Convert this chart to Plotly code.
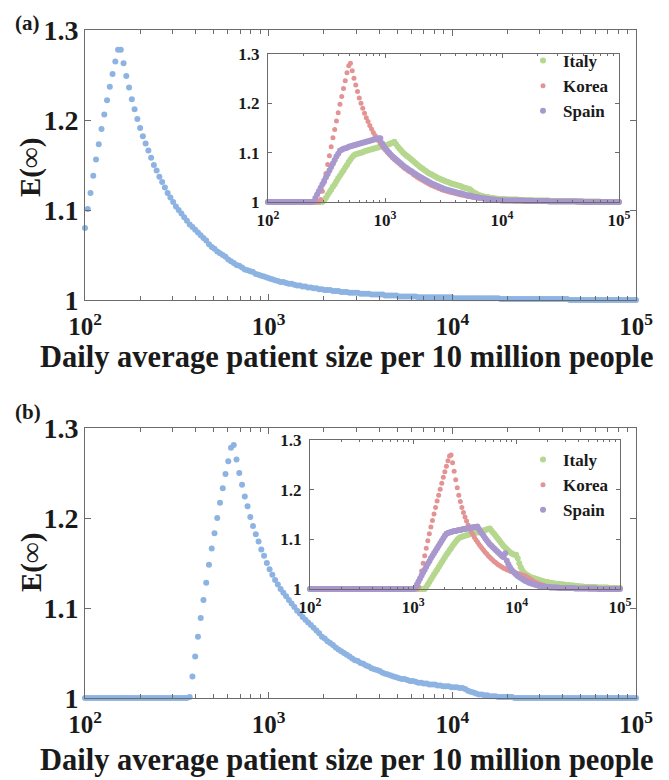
import numpy as np
import plotly.graph_objects as go

# ---------------- data ----------------
# every series is sampled on an evenly log-spaced grid from 10^2 to 10^5
X_MIN, X_MAX = 100, 100000

# panel (a), main curve
MAIN_A = [
    1.080, 1.101, 1.119, 1.138, 1.156, 1.173, 1.190, 1.206, 1.222, 1.237,
    1.251, 1.265, 1.278, 1.278, 1.263, 1.249, 1.236, 1.223, 1.212, 1.201,
    1.191, 1.182, 1.174, 1.166, 1.158, 1.150, 1.144, 1.137, 1.131, 1.125,
    1.119, 1.114, 1.109, 1.104, 1.100, 1.096, 1.092, 1.088, 1.084, 1.081,
    1.078, 1.075, 1.072, 1.069, 1.066, 1.062, 1.059, 1.057, 1.054, 1.052,
    1.050, 1.048, 1.045, 1.043, 1.041, 1.039, 1.038, 1.036, 1.034, 1.033,
    1.032, 1.031, 1.029, 1.028, 1.027, 1.026, 1.025, 1.024, 1.023, 1.022,
    1.021, 1.020, 1.020, 1.019, 1.018, 1.018, 1.017, 1.016, 1.016, 1.015,
    1.015, 1.014, 1.014, 1.013, 1.013, 1.012, 1.012, 1.011, 1.011, 1.011,
    1.010, 1.010, 1.010, 1.009, 1.009, 1.009, 1.008, 1.008, 1.008, 1.008,
    1.007, 1.007, 1.007, 1.007, 1.006, 1.006, 1.006, 1.006, 1.006, 1.005,
    1.005, 1.005, 1.005, 1.005, 1.004, 1.004, 1.004, 1.004, 1.004, 1.004,
    1.004, 1.003, 1.003, 1.003, 1.003, 1.003, 1.003, 1.003, 1.003, 1.003,
    1.003, 1.003, 1.003, 1.003, 1.002, 1.002, 1.002, 1.002, 1.002, 1.002,
    1.002, 1.002, 1.002, 1.002, 1.002, 1.002, 1.002, 1.002, 1.002, 1.002,
    1.002, 1.001, 1.001, 1.001, 1.001, 1.001, 1.001, 1.001, 1.001, 1.001,
    1.001, 1.001, 1.001, 1.001, 1.001, 1.001, 1.001, 1.001, 1.001, 1.001,
    1.001, 1.001, 1.001, 1.001, 1.001, 1.001, 1.0, 1.0, 1.0, 1.0,
    1.0, 1.0, 1.0, 1.0, 1.0, 1.0, 1.0, 1.0, 1.0, 1.0,
    1.0, 1.0, 1.0, 1.0, 1.0, 1.0, 1.0, 1.0, 1.0, 1.0,
    1.0,
]

# panel (a), inset
ITALY_A = [
    1.0, 1.0, 1.0, 1.0, 1.0, 1.0, 1.0, 1.0, 1.0, 1.0,
    1.0, 1.0, 1.0, 1.0, 1.0, 1.0, 1.0, 1.0, 1.0, 1.0,
    1.0, 1.0, 1.0, 1.0, 1.0, 1.0, 1.0, 1.0, 1.0, 1.0,
    1.0, 1.0, 1.003, 1.008, 1.014, 1.020, 1.025, 1.031, 1.036, 1.042,
    1.048, 1.053, 1.059, 1.064, 1.070, 1.075, 1.081, 1.086, 1.091, 1.095,
    1.097, 1.098, 1.099, 1.100, 1.101, 1.103, 1.104, 1.105, 1.106, 1.107,
    1.108, 1.109, 1.110, 1.111, 1.112, 1.113, 1.114, 1.115, 1.116, 1.117,
    1.119, 1.120, 1.122, 1.117, 1.112, 1.108, 1.104, 1.100, 1.097, 1.094,
    1.091, 1.088, 1.085, 1.082, 1.079, 1.076, 1.073, 1.070, 1.068, 1.065,
    1.063, 1.060, 1.058, 1.056, 1.054, 1.052, 1.050, 1.048, 1.047, 1.045,
    1.044, 1.042, 1.041, 1.040, 1.038, 1.037, 1.036, 1.035, 1.034, 1.033,
    1.032, 1.030, 1.029, 1.028, 1.027, 1.026, 1.023, 1.020, 1.018, 1.016,
    1.014, 1.013, 1.012, 1.011, 1.010, 1.010, 1.009, 1.008, 1.008, 1.007,
    1.007, 1.006, 1.006, 1.006, 1.006, 1.006, 1.005, 1.005, 1.005, 1.005,
    1.005, 1.005, 1.005, 1.004, 1.004, 1.004, 1.004, 1.004, 1.004, 1.004,
    1.004, 1.003, 1.003, 1.003, 1.003, 1.003, 1.003, 1.003, 1.003, 1.003,
    1.003, 1.002, 1.002, 1.002, 1.002, 1.002, 1.002, 1.002, 1.002, 1.002,
    1.002, 1.002, 1.002, 1.002, 1.002, 1.002, 1.001, 1.001, 1.001, 1.001,
    1.001, 1.001, 1.001, 1.001, 1.001, 1.001, 1.001, 1.001, 1.001, 1.001,
    1.0, 1.0, 1.0, 1.0, 1.0, 1.0, 1.0, 1.0, 1.0, 1.0,
    1.0,
]

KOREA_A = [
    1.0, 1.0, 1.0, 1.0, 1.0, 1.0, 1.0, 1.0, 1.0, 1.0,
    1.0, 1.0, 1.0, 1.0, 1.0, 1.0, 1.0, 1.0, 1.0, 1.0,
    1.0, 1.0, 1.0, 1.0, 1.0, 1.0, 1.0, 1.0, 1.0, 1.0,
    1.005, 1.022, 1.040, 1.058, 1.076, 1.094, 1.112, 1.130, 1.147, 1.164,
    1.181, 1.198, 1.214, 1.230, 1.246, 1.262, 1.276, 1.281, 1.266, 1.251,
    1.237, 1.224, 1.211, 1.200, 1.190, 1.180, 1.171, 1.163, 1.155, 1.148,
    1.141, 1.135, 1.129, 1.124, 1.119, 1.114, 1.109, 1.105, 1.101, 1.097,
    1.093, 1.089, 1.086, 1.083, 1.080, 1.077, 1.074, 1.071, 1.068, 1.066,
    1.063, 1.061, 1.059, 1.055, 1.053, 1.050, 1.048, 1.046, 1.044, 1.042,
    1.040, 1.038, 1.036, 1.034, 1.033, 1.031, 1.030, 1.028, 1.027, 1.025,
    1.024, 1.023, 1.022, 1.021, 1.020, 1.019, 1.018, 1.017, 1.016, 1.015,
    1.014, 1.014, 1.013, 1.012, 1.011, 1.011, 1.010, 1.009, 1.009, 1.008,
    1.008, 1.007, 1.007, 1.006, 1.006, 1.005, 1.005, 1.005, 1.004, 1.004,
    1.004, 1.003, 1.003, 1.003, 1.003, 1.003, 1.003, 1.003, 1.003, 1.003,
    1.002, 1.002, 1.002, 1.002, 1.002, 1.002, 1.002, 1.002, 1.002, 1.002,
    1.002, 1.002, 1.002, 1.002, 1.002, 1.002, 1.001, 1.001, 1.001, 1.001,
    1.001, 1.001, 1.001, 1.001, 1.001, 1.001, 1.001, 1.001, 1.001, 1.001,
    1.001, 1.001, 1.001, 1.001, 1.001, 1.001, 1.0, 1.0, 1.0, 1.0,
    1.0, 1.0, 1.0, 1.0, 1.0, 1.0, 1.0, 1.0, 1.0, 1.0,
    1.0, 1.0, 1.0, 1.0, 1.0, 1.0, 1.0, 1.0, 1.0, 1.0,
    1.0,
]

SPAIN_A = [
    1.0, 1.0, 1.0, 1.0, 1.0, 1.0, 1.0, 1.0, 1.0, 1.0,
    1.0, 1.0, 1.0, 1.0, 1.0, 1.0, 1.0, 1.0, 1.0, 1.0,
    1.0, 1.0, 1.0, 1.0, 1.0, 1.0, 1.001, 1.008, 1.015, 1.022,
    1.029, 1.036, 1.043, 1.050, 1.057, 1.064, 1.071, 1.078, 1.085, 1.092,
    1.098, 1.104, 1.106, 1.108, 1.109, 1.110, 1.112, 1.113, 1.114, 1.115,
    1.116, 1.117, 1.118, 1.119, 1.120, 1.121, 1.122, 1.123, 1.124, 1.125,
    1.126, 1.127, 1.128, 1.129, 1.129, 1.119, 1.113, 1.108, 1.104, 1.100,
    1.096, 1.092, 1.089, 1.086, 1.083, 1.080, 1.077, 1.074, 1.071, 1.069,
    1.066, 1.064, 1.062, 1.059, 1.057, 1.054, 1.052, 1.050, 1.048, 1.046,
    1.044, 1.042, 1.040, 1.038, 1.036, 1.035, 1.033, 1.032, 1.030, 1.029,
    1.027, 1.026, 1.025, 1.024, 1.023, 1.022, 1.021, 1.020, 1.019, 1.018,
    1.017, 1.016, 1.015, 1.014, 1.013, 1.013, 1.012, 1.011, 1.010, 1.010,
    1.009, 1.008, 1.008, 1.007, 1.007, 1.006, 1.006, 1.005, 1.005, 1.005,
    1.004, 1.004, 1.004, 1.003, 1.003, 1.003, 1.003, 1.003, 1.003, 1.003,
    1.003, 1.003, 1.003, 1.003, 1.003, 1.003, 1.002, 1.002, 1.002, 1.002,
    1.002, 1.002, 1.002, 1.002, 1.002, 1.002, 1.002, 1.002, 1.002, 1.002,
    1.001, 1.001, 1.001, 1.001, 1.001, 1.001, 1.001, 1.001, 1.001, 1.001,
    1.001, 1.001, 1.001, 1.001, 1.001, 1.001, 1.001, 1.001, 1.001, 1.001,
    1.0, 1.0, 1.0, 1.0, 1.0, 1.0, 1.0, 1.0, 1.0, 1.0,
    1.0, 1.0, 1.0, 1.0, 1.0, 1.0, 1.0, 1.0, 1.0, 1.0,
    1.0,
]

# panel (b), main curve
MAIN_B = [
    1.0, 1.0, 1.0, 1.0, 1.0, 1.0, 1.0, 1.0, 1.0, 1.0,
    1.0, 1.0, 1.0, 1.0, 1.0, 1.0, 1.0, 1.0, 1.0, 1.0,
    1.0, 1.0, 1.0, 1.0, 1.0, 1.0, 1.0, 1.0, 1.0, 1.0,
    1.0, 1.0, 1.0, 1.0, 1.0, 1.0, 1.0, 1.0, 1.001, 1.024,
    1.046, 1.068, 1.089, 1.109, 1.128, 1.148, 1.166, 1.183, 1.200, 1.217,
    1.233, 1.249, 1.263, 1.278, 1.281, 1.265, 1.250, 1.237, 1.224, 1.213,
    1.201, 1.191, 1.182, 1.174, 1.165, 1.158, 1.150, 1.143, 1.137, 1.131,
    1.126, 1.121, 1.117, 1.113, 1.109, 1.105, 1.101, 1.097, 1.094, 1.090,
    1.087, 1.084, 1.081, 1.078, 1.075, 1.072, 1.068, 1.066, 1.063, 1.061,
    1.059, 1.056, 1.054, 1.052, 1.050, 1.048, 1.046, 1.044, 1.042, 1.041,
    1.039, 1.038, 1.036, 1.035, 1.033, 1.032, 1.031, 1.030, 1.028, 1.027,
    1.026, 1.025, 1.024, 1.023, 1.022, 1.021, 1.021, 1.020, 1.019, 1.019,
    1.018, 1.017, 1.017, 1.016, 1.016, 1.015, 1.015, 1.015, 1.014, 1.014,
    1.013, 1.013, 1.013, 1.012, 1.012, 1.012, 1.011, 1.011, 1.010, 1.008,
    1.007, 1.006, 1.005, 1.004, 1.004, 1.003, 1.003, 1.002, 1.002, 1.002,
    1.001, 1.001, 1.001, 1.001, 1.001, 1.001, 1.0, 1.0, 1.0, 1.0,
    1.0, 1.0, 1.0, 1.0, 1.0, 1.0, 1.0, 1.0, 1.0, 1.0,
    1.0, 1.0, 1.0, 1.0, 1.0, 1.0, 1.0, 1.0, 1.0, 1.0,
    1.0, 1.0, 1.0, 1.0, 1.0, 1.0, 1.0, 1.0, 1.0, 1.0,
    1.0, 1.0, 1.0, 1.0, 1.0, 1.0, 1.0, 1.0, 1.0, 1.0,
    1.0,
]

# panel (b), inset
ITALY_B = [
    1.0, 1.0, 1.0, 1.0, 1.0, 1.0, 1.0, 1.0, 1.0, 1.0,
    1.0, 1.0, 1.0, 1.0, 1.0, 1.0, 1.0, 1.0, 1.0, 1.0,
    1.0, 1.0, 1.0, 1.0, 1.0, 1.0, 1.0, 1.0, 1.0, 1.0,
    1.0, 1.0, 1.0, 1.0, 1.0, 1.0, 1.0, 1.0, 1.0, 1.0,
    1.0, 1.0, 1.0, 1.0, 1.0, 1.0, 1.0, 1.0, 1.0, 1.0,
    1.0, 1.0, 1.0, 1.0, 1.0, 1.0, 1.0, 1.0, 1.0, 1.0,
    1.0, 1.0, 1.0, 1.0, 1.0, 1.0, 1.0, 1.0, 1.0, 1.0,
    1.0, 1.0, 1.0, 1.0, 1.0, 1.004, 1.009, 1.014, 1.019, 1.024,
    1.029, 1.034, 1.039, 1.044, 1.049, 1.054, 1.059, 1.064, 1.069, 1.073,
    1.078, 1.082, 1.087, 1.091, 1.095, 1.099, 1.102, 1.104, 1.105, 1.106,
    1.107, 1.108, 1.109, 1.110, 1.111, 1.112, 1.113, 1.114, 1.114, 1.115,
    1.116, 1.117, 1.118, 1.119, 1.120, 1.121, 1.122, 1.118, 1.114, 1.110,
    1.106, 1.102, 1.098, 1.094, 1.090, 1.086, 1.083, 1.080, 1.077, 1.074,
    1.072, 1.070, 1.069, 1.069, 1.062, 1.052, 1.044, 1.037, 1.033, 1.030,
    1.028, 1.026, 1.024, 1.023, 1.022, 1.021, 1.020, 1.019, 1.018, 1.017,
    1.016, 1.015, 1.014, 1.014, 1.013, 1.012, 1.012, 1.011, 1.011, 1.010,
    1.010, 1.010, 1.009, 1.009, 1.009, 1.008, 1.008, 1.008, 1.007, 1.007,
    1.007, 1.006, 1.006, 1.006, 1.005, 1.005, 1.005, 1.004, 1.004, 1.004,
    1.004, 1.004, 1.004, 1.004, 1.004, 1.003, 1.003, 1.003, 1.003, 1.003,
    1.003, 1.003, 1.003, 1.002, 1.002, 1.002, 1.002, 1.002, 1.002, 1.002,
    1.002,
]

KOREA_B = [
    1.0, 1.0, 1.0, 1.0, 1.0, 1.0, 1.0, 1.0, 1.0, 1.0,
    1.0, 1.0, 1.0, 1.0, 1.0, 1.0, 1.0, 1.0, 1.0, 1.0,
    1.0, 1.0, 1.0, 1.0, 1.0, 1.0, 1.0, 1.0, 1.0, 1.0,
    1.0, 1.0, 1.0, 1.0, 1.0, 1.0, 1.0, 1.0, 1.0, 1.0,
    1.0, 1.0, 1.0, 1.0, 1.0, 1.0, 1.0, 1.0, 1.0, 1.0,
    1.0, 1.0, 1.0, 1.0, 1.0, 1.0, 1.0, 1.0, 1.0, 1.0,
    1.0, 1.0, 1.0, 1.0, 1.0, 1.0, 1.0, 1.0, 1.0, 1.0,
    1.005, 1.021, 1.036, 1.052, 1.067, 1.082, 1.097, 1.111, 1.125, 1.138,
    1.151, 1.164, 1.177, 1.189, 1.201, 1.213, 1.225, 1.236, 1.247, 1.258,
    1.268, 1.270, 1.254, 1.237, 1.220, 1.204, 1.189, 1.176, 1.164, 1.154,
    1.145, 1.137, 1.129, 1.122, 1.115, 1.110, 1.104, 1.099, 1.095, 1.090,
    1.086, 1.082, 1.078, 1.074, 1.071, 1.067, 1.064, 1.061, 1.058, 1.055,
    1.053, 1.050, 1.048, 1.046, 1.044, 1.042, 1.041, 1.039, 1.038, 1.036,
    1.035, 1.034, 1.033, 1.032, 1.031, 1.030, 1.029, 1.028, 1.027, 1.026,
    1.024, 1.022, 1.020, 1.018, 1.016, 1.014, 1.013, 1.011, 1.010, 1.009,
    1.008, 1.007, 1.006, 1.005, 1.005, 1.004, 1.004, 1.003, 1.003, 1.002,
    1.002, 1.002, 1.002, 1.002, 1.002, 1.002, 1.001, 1.001, 1.001, 1.001,
    1.001, 1.001, 1.001, 1.001, 1.001, 1.001, 1.001, 1.001, 1.001, 1.001,
    1.0, 1.0, 1.0, 1.0, 1.0, 1.0, 1.0, 1.0, 1.0, 1.0,
    1.0, 1.0, 1.0, 1.0, 1.0, 1.0, 1.0, 1.0, 1.0, 1.0,
    1.0,
]

SPAIN_B = [
    1.0, 1.0, 1.0, 1.0, 1.0, 1.0, 1.0, 1.0, 1.0, 1.0,
    1.0, 1.0, 1.0, 1.0, 1.0, 1.0, 1.0, 1.0, 1.0, 1.0,
    1.0, 1.0, 1.0, 1.0, 1.0, 1.0, 1.0, 1.0, 1.0, 1.0,
    1.0, 1.0, 1.0, 1.0, 1.0, 1.0, 1.0, 1.0, 1.0, 1.0,
    1.0, 1.0, 1.0, 1.0, 1.0, 1.0, 1.0, 1.0, 1.0, 1.0,
    1.0, 1.0, 1.0, 1.0, 1.0, 1.0, 1.0, 1.0, 1.0, 1.0,
    1.0, 1.0, 1.0, 1.0, 1.0, 1.0, 1.0, 1.0, 1.003, 1.009,
    1.015, 1.021, 1.027, 1.033, 1.039, 1.045, 1.051, 1.056, 1.062, 1.067,
    1.072, 1.077, 1.082, 1.087, 1.092, 1.097, 1.102, 1.107, 1.111, 1.113,
    1.114, 1.115, 1.116, 1.117, 1.117, 1.118, 1.119, 1.119, 1.120, 1.121,
    1.121, 1.122, 1.122, 1.123, 1.124, 1.124, 1.125, 1.125, 1.126, 1.121,
    1.116, 1.111, 1.107, 1.102, 1.098, 1.094, 1.090, 1.087, 1.084, 1.081,
    1.078, 1.075, 1.072, 1.069, 1.066, 1.064, 1.072, 1.057, 1.050, 1.044,
    1.039, 1.035, 1.032, 1.029, 1.026, 1.024, 1.022, 1.020, 1.018, 1.016,
    1.015, 1.013, 1.012, 1.011, 1.010, 1.009, 1.008, 1.007, 1.006, 1.006,
    1.005, 1.005, 1.004, 1.004, 1.004, 1.003, 1.003, 1.003, 1.003, 1.003,
    1.003, 1.002, 1.002, 1.002, 1.002, 1.002, 1.002, 1.002, 1.002, 1.002,
    1.002, 1.001, 1.001, 1.001, 1.001, 1.001, 1.001, 1.001, 1.001, 1.001,
    1.001, 1.001, 1.001, 1.001, 1.001, 1.001, 1.0, 1.0, 1.0, 1.0,
    1.0, 1.0, 1.0, 1.0, 1.0, 1.0, 1.0, 1.0, 1.0, 1.0,
    1.0,
]

SERIES_NAMES = ["Italy", "Korea", "Spain"]
MAJOR_X = [100, 1000, 10000, 100000]
MAJOR_X_TEXT = ["10<sup>2</sup>", "10<sup>3</sup>", "10<sup>4</sup>", "10<sup>5</sup>"]
Y_TICKS = [1, 1.1, 1.2, 1.3]
Y_TICK_TEXT = ["1", "1.1", "1.2", "1.3"]
X_TITLE = "Daily average patient size per 10 million people"
Y_TITLE = "E(\u221e)"

# ---------------- styling ----------------
PAGE_W, PAGE_H = 669, 780
OFF = 8                      # the html page body margin
W, H = PAGE_W - OFF, PAGE_H - OFF
FONT = "Liberation Serif, Times New Roman, Times, DejaVu Serif, serif"
TXT = "#1a1a1a"
AX = "#6b6b6b"
BLUE = "#8db3e2"
COLORS = {"Italy": "#b5d78e", "Korea": "#e39393", "Spain": "#a898cd"}
SIZES = {"Italy": 6, "Korea": 5, "Spain": 6}

MINOR_X = [m * 10 ** e for e in (2, 3, 4) for m in range(2, 10)]


def px_x(v):
    return (v - OFF) / W


def px_y(v):
    return 1 - (v - OFF) / H


def grid(values):
    return np.logspace(np.log10(X_MIN), np.log10(X_MAX), len(values))


def xaxis(dom, anchor, size, ticklen, minorlen, standoff):
    return dict(type="log", range=[2, 5], domain=dom, anchor=anchor, automargin=False,
                showline=True, linecolor=AX, linewidth=1, mirror="ticks",
                ticks="inside", ticklen=ticklen, tickcolor=AX, tickwidth=1,
                tickmode="array", tickvals=MAJOR_X, ticktext=MAJOR_X_TEXT,
                minor=dict(tickmode="array", tickvals=MINOR_X, ticks="inside",
                           ticklen=minorlen, tickcolor=AX, showgrid=False),
                showgrid=False, zeroline=False, ticklabelstandoff=standoff,
                tickfont=dict(family=FONT, size=size, color=TXT, weight="bold"))


def yaxis(dom, anchor, size, ticklen, standoff):
    return dict(range=[1, 1.3], domain=dom, anchor=anchor, automargin=False,
                showline=True, linecolor=AX, linewidth=1, mirror="ticks",
                ticks="inside", ticklen=ticklen, tickcolor=AX, tickwidth=1,
                tickmode="array", tickvals=Y_TICKS, ticktext=Y_TICK_TEXT,
                showgrid=False, zeroline=False, ticklabelstandoff=standoff,
                tickfont=dict(family=FONT, size=size, color=TXT, weight="bold"))


fig = go.Figure()

# main curves
fig.add_trace(go.Scatter(x=grid(MAIN_A), y=MAIN_A, xaxis="x", yaxis="y", mode="markers",
                         marker=dict(color=BLUE, size=6), showlegend=False, cliponaxis=False))
fig.add_trace(go.Scatter(x=grid(MAIN_B), y=MAIN_B, xaxis="x3", yaxis="y3", mode="markers",
                         marker=dict(color=BLUE, size=6), showlegend=False, cliponaxis=False))

# insets
for name, vals in zip(SERIES_NAMES, [ITALY_A, KOREA_A, SPAIN_A]):
    fig.add_trace(go.Scatter(x=grid(vals), y=vals, xaxis="x2", yaxis="y2", mode="markers",
                             name=name, legend="legend",
                             marker=dict(color=COLORS[name], size=SIZES[name]), cliponaxis=False))
for name, vals in zip(SERIES_NAMES, [ITALY_B, KOREA_B, SPAIN_B]):
    fig.add_trace(go.Scatter(x=grid(vals), y=vals, xaxis="x4", yaxis="y4", mode="markers",
                             name=name, legend="legend2",
                             marker=dict(color=COLORS[name], size=SIZES[name]), cliponaxis=False))

MAIN_XDOM = [px_x(85), px_x(636)]
legend_style = dict(xanchor="left", yanchor="top", bgcolor="rgba(0,0,0,0)",
                    font=dict(family=FONT, size=17, color=TXT, weight="bold"),
                    itemwidth=30, tracegroupgap=0)

fig.update_layout(
    width=W, height=H, margin=dict(l=0, r=0, t=0, b=0, autoexpand=False),
    paper_bgcolor="white", plot_bgcolor="white",
    xaxis=xaxis(MAIN_XDOM, "y", 25, 6, 4, 4),
    yaxis=yaxis([px_y(300), px_y(30)], "x", 28, 6, 0),
    xaxis2=xaxis([px_x(268), px_x(619)], "y2", 17, 4, 2, 3),
    yaxis2=yaxis([px_y(202), px_y(54)], "x2", 17, 4, 4),
    xaxis3=xaxis(MAIN_XDOM, "y3", 25, 6, 4, 4),
    yaxis3=yaxis([px_y(698), px_y(428)], "x3", 28, 6, 0),
    xaxis4=xaxis([px_x(310), px_x(620)], "y4", 17, 4, 2, 3),
    yaxis4=yaxis([px_y(589), px_y(440)], "x4", 17, 4, 4),
    legend=dict(x=px_x(523), y=px_y(43), **legend_style),
    legend2=dict(x=px_x(523), y=px_y(442), **legend_style),
)

ann_font = dict(family=FONT, color=TXT, weight="bold")
annotations = [
    dict(text="(a)", x=px_x(27), y=px_y(9), size=21, anchor="top"),
    dict(text="(b)", x=px_x(28), y=px_y(412), size=21, anchor="middle"),
    dict(text=X_TITLE, x=px_x(347), y=px_y(357), size=30.5, anchor="middle"),
    dict(text=X_TITLE, x=px_x(347), y=px_y(760), size=30.5, anchor="middle"),
]
for a in annotations:
    fig.add_annotation(text=a["text"], x=a["x"], y=a["y"], xref="paper", yref="paper",
                       xanchor="center", yanchor=a["anchor"], showarrow=False,
                       font=dict(size=a["size"], **ann_font))
for yc in (168, 563):
    fig.add_annotation(text=Y_TITLE, x=px_x(31), y=px_y(yc), xref="paper", yref="paper",
                       xanchor="center", yanchor="middle", showarrow=False, textangle=-90,
                       font=dict(size=29, **ann_font))

fig.write_html("out.html")
